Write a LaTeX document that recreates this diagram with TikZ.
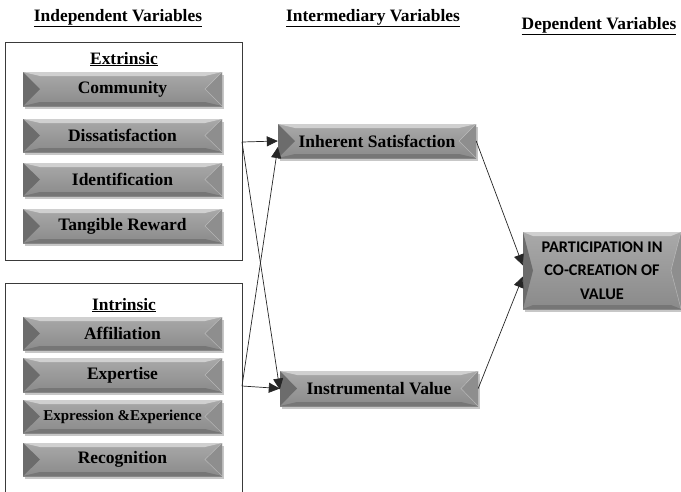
\documentclass[tikz,border=0pt]{standalone}
\usepackage{fontspec}
\setmainfont{Liberation Serif}
\newfontfamily\calib{Carlito}
\usetikzlibrary{arrows.meta,shadows,calc}

\definecolor{bvhi}{HTML}{A9A9A9}
\definecolor{bvlo}{HTML}{8A8A8A}
\definecolor{bvtop}{HTML}{D0D0D0}
\definecolor{bvbot}{HTML}{767676}
\definecolor{bvleft}{HTML}{6C6C6C}
\definecolor{bvright}{HTML}{8E8E8E}
\definecolor{linegray}{HTML}{3A3A3A}

\newlength\bvdx
\setlength\bvdx{17pt}

\tikzset{
  bevel dx/.code={\setlength\bvdx{#1}},
  bevelbox/.style={rectangle, inner sep=0pt, draw=none, text=black,
    font=\bfseries\fontsize{17.5}{20}\selectfont,
    drop shadow={shadow xshift=1.5pt, shadow yshift=-2.5pt, fill=black, opacity=0.22},
    top color=bvhi, bottom color=bvlo,
    bevel dx=#1,
    path picture={
      \coordinate (bvnw) at (path picture bounding box.north west);
      \coordinate (bvne) at (path picture bounding box.north east);
      \coordinate (bvsw) at (path picture bounding box.south west);
      \coordinate (bvse) at (path picture bounding box.south east);
      \coordinate (bvw) at (path picture bounding box.west);
      \coordinate (bve) at (path picture bounding box.east);
      \fill[bvtop] (bvnw) -- (bvne) -- ([xshift=-\bvdx, yshift=-4pt]bvne) -- ([xshift=\bvdx, yshift=-4pt]bvnw) -- cycle;
      \fill[bvbot] (bvsw) -- (bvse) -- ([xshift=-\bvdx, yshift=4pt]bvse) -- ([xshift=\bvdx, yshift=4pt]bvsw) -- cycle;
      \fill[bvleft] (bvnw) -- ([xshift=\bvdx]bvw) -- (bvsw) -- cycle;
      \fill[bvright] (bvne) -- ([xshift=-\bvdx]bve) -- (bvse) -- cycle;
      \draw[white, opacity=0.35, line width=0.5pt] (bvne) -- ([xshift=-\bvdx]bve) -- (bvse);
    }},
  bevelbox/.default=17pt,
  heading/.style={anchor=base, font=\bfseries\fontsize{17.4}{20}\selectfont},
  groupbox/.style={draw=linegray, line width=0.9pt},
  link/.style={draw=black!85, line width=0.7pt, -{Triangle[length=11pt,width=10pt]}},
}

\begin{document}
\begin{tikzpicture}[x=1pt, y=-1pt]
  \useasboundingbox (0,0) rectangle (681,491);

  % column headings
  \node[heading] (hind) at (118,21) {\underline{Independent Variables}};
  \node[heading] (hint) at (373,21) {\underline{Intermediary Variables}};
  \node[heading] (hdep) at (599,29.5) {\underline{Dependent Variables}};

  % group frames
  \draw[groupbox] (5,42) rectangle (242,260);
  \draw[groupbox] (5,492) -- (5,283) -- (242,283) -- (242,492);

  \node[heading] (lext) at (124,64) {\underline{Extrinsic}};
  \node[heading] (lint) at (124,310) {\underline{Intrinsic}};

  % extrinsic motives
  \node[bevelbox, minimum width=199pt, minimum height=34pt] (comm) at (122.5,89) {Community};
  \node[bevelbox, minimum width=199pt, minimum height=33pt] (diss) at (122.5,135.5) {Dissatisfaction};
  \node[bevelbox, minimum width=199pt, minimum height=33pt] (iden) at (122.5,179.5) {Identification};
  \node[bevelbox, minimum width=199pt, minimum height=34pt] (tang) at (122.5,226) {Tangible Reward};

  % intrinsic motives
  \node[bevelbox, minimum width=199pt, minimum height=33pt] (affi) at (122.5,333.5) {Affiliation};
  \node[bevelbox, minimum width=199pt, minimum height=34pt] (expt) at (122.5,375) {Expertise};
  \node[bevelbox, minimum width=199pt, minimum height=33pt, font=\bfseries\fontsize{15}{18}\selectfont] (expr) at (122.5,416.5) {Expression \&Experience};
  \node[bevelbox, minimum width=199pt, minimum height=33pt] (reco) at (122.5,459.5) {Recognition};

  % intermediary variables
  \node[bevelbox, minimum width=198pt, minimum height=34pt] (inh) at (377,141) {Inherent Satisfaction};
  \node[bevelbox, minimum width=198pt, minimum height=35pt] (ins) at (379,388.5) {Instrumental Value};

  % dependent variable
  \node[bevelbox=10pt, minimum width=158pt, minimum height=77pt, align=center,
        font=\calib\bfseries\fontsize{16.3}{23.5}\selectfont] (part) at (602,270.5)
        {PARTICIPATION IN\\CO-CREATION OF\\VALUE};

  % outlets of the group frames
  \coordinate (eout) at (242,142);
  \coordinate (iout) at (242,386);

  % connectors
  \draw[link] (eout) -- (inh.west);
  \draw[link] (eout) -- ([yshift=-1pt]ins.west);
  \draw[link] (iout) -- (ins.west);
  \draw[link] (iout) -- ([yshift=-6pt]inh.west);
  \draw[link] (inh.east) -- ([yshift=5pt]part.west);
  \draw[link] (ins.east) -- ([yshift=-6pt]part.west);
\end{tikzpicture}
\end{document}
